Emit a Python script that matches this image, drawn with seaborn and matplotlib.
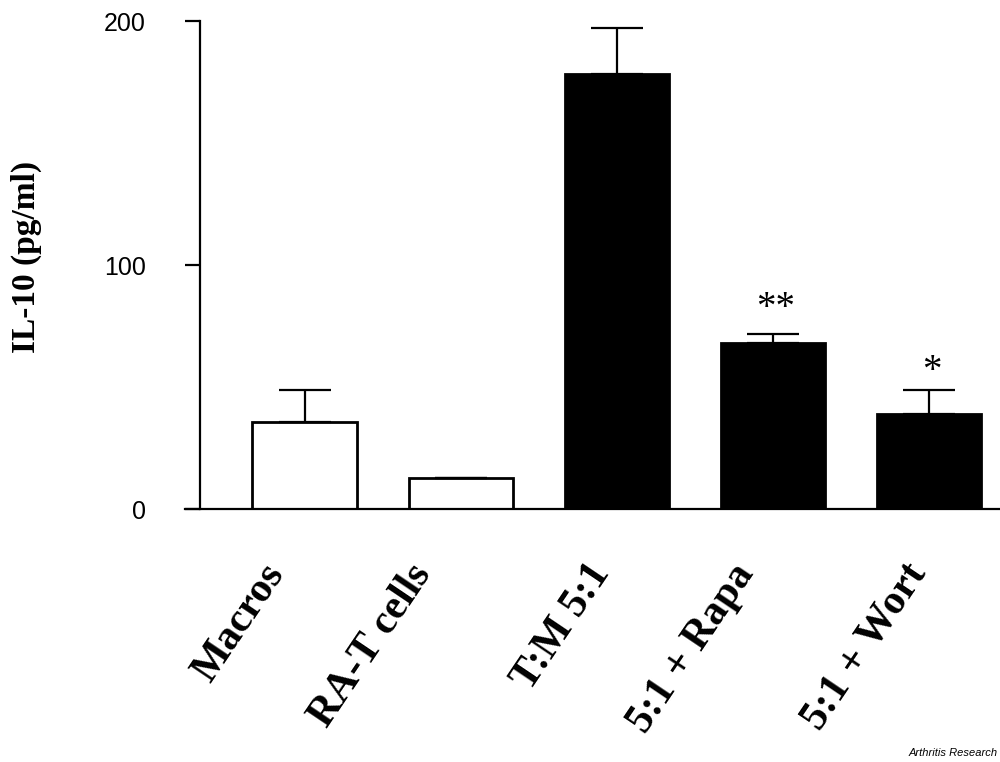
import matplotlib
matplotlib.use("Agg")
import matplotlib.pyplot as plt
import matplotlib.transforms as mtransforms
import seaborn as sns
import pandas as pd

categories = ["Macros", "RA-T cells", "T:M 5:1", "5:1 + Rapa", "5:1 + Wort"]
values = [35.9, 12.7, 178.3, 68.0, 39.0]
errors = [13.0, 0.0, 18.7, 3.8, 9.9]
colors = ["white", "white", "black", "black", "black"]
marks = ["", "", "", "**", "*"]
yticks = [0, 100, 200]

sns.set_theme(style="white")
plt.rcParams['font.family'] = ['Liberation Sans', 'DejaVu Sans']
plt.rcParams['text.color'] = 'black'
plt.rcParams['xtick.color'] = 'black'
plt.rcParams['ytick.color'] = 'black'

df = pd.DataFrame({"cat": categories, "val": values})

fig = plt.figure(figsize=(10, 7.62), dpi=100)
ax = fig.add_axes([0.2, 0.3316, 0.8, 0.6408])

sns.barplot(data=df, x="cat", y="val", hue="cat", palette=colors, legend=False,
            edgecolor="black", linewidth=2, width=0.667, ax=ax, errorbar=None)

xs = list(range(len(categories)))
lower = [0] * len(errors)
ax.errorbar(xs, values, yerr=[lower, errors], fmt="none", ecolor="black",
            elinewidth=1.6, capsize=19, capthick=1.6, zorder=1)

# label placement tweaks (pixels)
mark_offsets = [0, 0, 0, 32, 24]
for x, v, e, m, off in zip(xs, values, errors, marks, mark_offsets):
    if m:
        ax.annotate(m, xy=(x, v + e), xytext=(3, off - 6), textcoords="offset pixels",
                    ha="center", va="center", fontsize=28,
                    family="Liberation Serif", color="black")

ax.set_xlim(-0.67, 4.458)
ax.set_ylim(0, 200)
ax.set_yticks(yticks)
ax.set_yticklabels([str(t) for t in yticks], fontsize=18, family="Liberation Sans",
                   color="black")
ax.tick_params(axis="y", direction="out", length=11, width=1.6, pad=28, left=True,
               colors="black")
ax.tick_params(axis="x", length=0, pad=42)

label_dx = [-28, -37, -14, -26, -10]
for lab, dx in zip(ax.get_xticklabels(), label_dx):
    lab.set_rotation(56)
    lab.set_rotation_mode("anchor")
    lab.set_ha("right")
    lab.set_va("center")
    lab.set_fontsize(30)
    lab.set_fontweight("bold")
    lab.set_family("Liberation Serif")
    lab.set_color("black")
    lab.set_transform(lab.get_transform() +
                      mtransforms.ScaledTranslation(dx / 100, 0, fig.dpi_scale_trans))

ax.set_xlabel("")
ax.set_ylabel("IL-10 (pg/ml)", fontsize=24, fontweight="bold",
              family="Liberation Serif", color="black", va="center")
ax.yaxis.set_label_coords(-0.2175, 0.517)

for s in ["top", "right"]:
    ax.spines[s].set_visible(False)
for s in ["left", "bottom"]:
    ax.spines[s].set_color("black")
    ax.spines[s].set_linewidth(1.6)
ax.spines["bottom"].set_bounds(-0.67 - 15/156, 4.458)
ax.spines["bottom"].set_clip_on(False)

fig.text(0.998, 0.005, "Arthritis Research", ha="right", va="bottom",
         fontsize=8, style="italic", family="Liberation Sans")

fig.savefig("out.png", dpi=100)
